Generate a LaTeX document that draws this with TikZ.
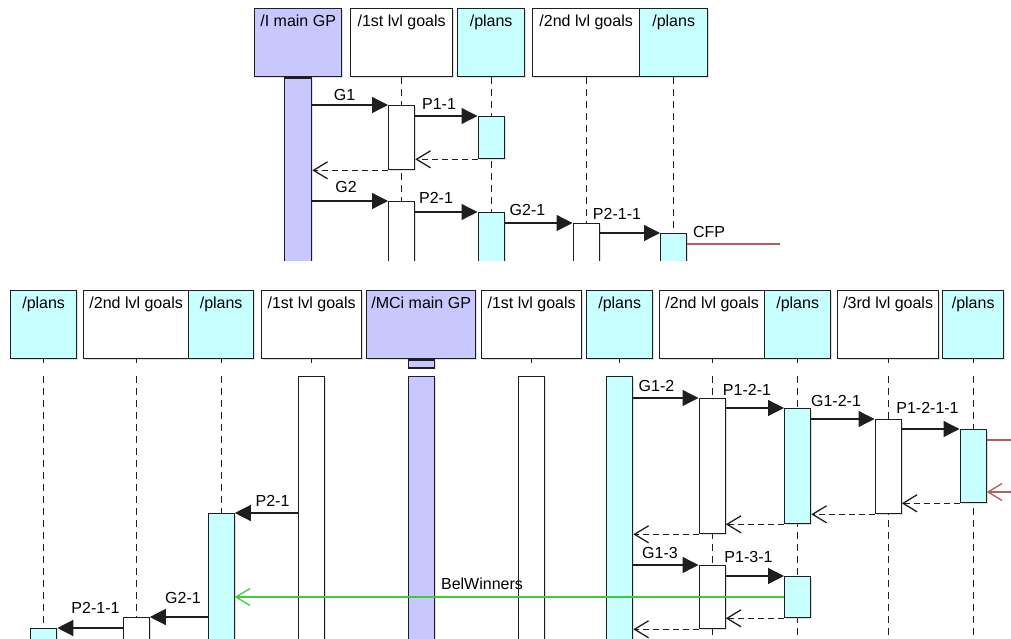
\documentclass[tikz,border=0pt]{standalone}
\usepackage{fontspec}
\setmainfont{Liberation Sans}
\usetikzlibrary{arrows.meta,positioning,shadows}
\definecolor{gpviolet}{RGB}{200,200,255}
\definecolor{plancyan}{RGB}{200,255,255}
\definecolor{edgegray}{RGB}{30,30,30}
\definecolor{cfpred}{RGB}{176,96,96}
\definecolor{belgreen}{RGB}{60,205,60}

\begin{document}
\begin{tikzpicture}[x=1pt,y=-1pt,line width=1.3pt,
    font=\fontsize{16}{19}\selectfont,
    lane/.style={draw=edgegray,fill=white,anchor=north west,minimum height=68pt,
        inner xsep=0pt,inner ysep=4pt,text height=14pt,text depth=46pt,
        drop shadow={shadow xshift=1.5pt,shadow yshift=-1.5pt,opacity=0.25}},
    bar/.style={draw=edgegray,fill=white,anchor=north,minimum width=26pt,inner sep=0pt,
        drop shadow={shadow xshift=1.5pt,shadow yshift=-1.5pt,opacity=0.25}},
    life/.style={edgegray,dash pattern=on 7pt off 5pt},
    msg/.style={edgegray,-{Triangle[length=16pt,width=16pt]}},
    back/.style={edgegray,dash pattern=on 6pt off 4pt,-{Straight Barb[length=14pt,width=17pt]}},
    lbl/.style={inner sep=0pt}]
    \useasboundingbox (0,0) rectangle (1011,639);

    % upper view: I agent
    \node[lane,fill=gpviolet,minimum width=87pt] (h1) at (254,8) {/I main GP};
    \node[lane,minimum width=102pt] (h2) at (350,8) {/1st lvl goals};
    \node[lane,fill=plancyan,minimum width=67pt] (h3) at (457,8) {/plans};
    \node[lane,minimum width=107pt] (h4) at (532,8) {/2nd lvl goals};
    \node[lane,fill=plancyan,minimum width=68pt] (h5) at (639,8) {/plans};

    \begin{scope}
        \clip (0,0) rectangle (1011,260);
        \foreach \h in {h2,h3,h4,h5} {
            \draw[life] (\h.south) -- (\h.south |- 0,265);
        }
        \node[bar,fill=gpviolet,minimum width=27pt,minimum height=195pt] (mb1) at (h1.south) {};
        \node[bar,minimum height=64pt] (a1) at (h2.south |- 0,105) {};
        \node[bar,fill=plancyan,minimum height=42pt] (p1) at (h3.south |- 0,116) {};
        \node[bar,minimum height=70pt] (a2) at (h2.south |- 0,201) {};
        \node[bar,fill=plancyan,minimum height=70pt] (p2) at (h3.south |- 0,212) {};
        \node[bar,minimum height=70pt] (b1) at (h4.south |- 0,223) {};
        \node[bar,fill=plancyan,minimum height=70pt] (q1) at (h5.south |- 0,233) {};
    \end{scope}

    \draw[msg] (mb1.east |- a1.north) -- (a1.north west);
    \draw[msg] (a1.east |- p1.north) -- (p1.north west);
    \draw[back] (p1.south west) -- (a1.east |- p1.south west);
    \draw[back] (a1.south west) -- (mb1.east |- a1.south west);
    \draw[msg] (mb1.east |- a2.north) -- (a2.north west);
    \draw[msg] (a2.east |- p2.north) -- (p2.north west);
    \draw[msg] (p2.east |- b1.north) -- (b1.north west);
    \draw[msg] (b1.east |- q1.north) -- (q1.north west);
    \coordinate (cfpend) at (780,244);
    \draw[cfpred] (q1.east |- cfpend) -- (cfpend);

    \node[lbl] (lg1) at (344.5,95) {G1};
    \node[lbl] (lp11) at (439,104) {P1-1};
    \node[lbl] (lg2) at (346,186.5) {G2};
    \node[lbl] (lp21) at (436,198) {P2-1};
    \node[lbl] (lg21) at (527.5,210) {G2-1};
    \node[lbl] (lp211) at (617,213.5) {P2-1-1};
    \node[lbl] (lcfp) at (709,231.5) {CFP};

    % lower view: MCi agent
    \node[lane,fill=plancyan,minimum width=66pt] (k1) at (10,290) {/plans};
    \node[lane,minimum width=105pt] (k2) at (83,290) {/2nd lvl goals};
    \node[lane,fill=plancyan,minimum width=65pt] (k3) at (188,290) {/plans};
    \node[lane,minimum width=100pt] (k4) at (261,290) {/1st lvl goals};
    \node[lane,fill=gpviolet,minimum width=109pt] (k5) at (366,290) {/MCi main GP};
    \node[lane,minimum width=100pt] (k6) at (481,290) {/1st lvl goals};
    \node[lane,fill=plancyan,minimum width=66pt] (k7) at (586,290) {/plans};
    \node[lane,minimum width=105pt] (k8) at (659,290) {/2nd lvl goals};
    \node[lane,fill=plancyan,minimum width=66pt] (k9) at (764,290) {/plans};
    \node[lane,minimum width=101pt] (k10) at (837,290) {/3rd lvl goals};
    \node[lane,fill=plancyan,minimum width=61pt] (k11) at (942,290) {/plans};

    \foreach \k in {k1,k2,k3,k4,k6,k7,k8,k9,k10,k11} {
        \draw[edgegray] (\k.south) -- (\k.south |- 0,363);
    }
    \node[bar,fill=gpviolet,minimum height=8pt] (ms) at (k5.south) {};

    \begin{scope}
        \clip (0,370) rectangle (1011,639);
        \foreach \k in {k1,k2,k3,k4,k6,k7,k8,k9,k10,k11} {
            \draw[life] (\k.south |- 0,376) -- (\k.south |- 0,645);
        }
        \node[bar,minimum height=280pt] (c1) at (k4.south |- 0,376) {};
        \node[bar,fill=gpviolet,minimum height=280pt] (mb2) at (k5.south |- 0,376) {};
        \node[bar,minimum height=280pt] (c2) at (k6.south |- 0,376) {};
        \node[bar,fill=plancyan,minimum height=280pt] (pb) at (k7.south |- 0,376) {};
        \node[bar,minimum height=135pt] (d1) at (k8.south |- 0,398) {};
        \node[bar,fill=plancyan,minimum height=115pt] (e1) at (k9.south |- 0,408) {};
        \node[bar,minimum height=94pt] (f1) at (k10.south |- 0,419) {};
        \node[bar,fill=plancyan,minimum height=73pt] (g1) at (k11.south |- 0,429) {};
        \node[bar,minimum height=63pt] (d2) at (k8.south |- 0,565) {};
        \node[bar,fill=plancyan,minimum height=41pt] (e2) at (k9.south |- 0,576) {};
        \node[bar,fill=plancyan,minimum height=140pt] (r1) at (k3.south |- 0,513) {};
        \node[bar,minimum height=40pt] (s1) at (k2.south |- 0,617) {};
        \node[bar,fill=plancyan,minimum height=40pt] (t1) at (k1.south |- 0,628) {};
    \end{scope}

    \draw[msg] (pb.east |- d1.north) -- (d1.north west);
    \draw[msg] (d1.east |- e1.north) -- (e1.north west);
    \draw[msg] (e1.east |- f1.north) -- (f1.north west);
    \draw[msg] (f1.east |- g1.north) -- (g1.north west);
    \coordinate (cfpout) at (1011,440);
    \coordinate (cfpin) at (1011,492);
    \draw[cfpred] (g1.east |- cfpout) -- (cfpout);
    \draw[cfpred,-{Straight Barb[length=14pt,width=17pt]}] (cfpin) -- (g1.east |- cfpin);
    \draw[back] (g1.south west) -- (f1.east |- g1.south west);
    \draw[back] (f1.south west) -- (e1.east |- f1.south west);
    \draw[back] (e1.south west) -- (d1.east |- e1.south west);
    \draw[back] (d1.south west) -- (pb.east |- d1.south west);
    \draw[msg] (pb.east |- d2.north) -- (d2.north west);
    \draw[msg] (d2.east |- e2.north) -- (e2.north west);
    \draw[back] (e2.south west) -- (d2.east |- e2.south west);
    \draw[back] (d2.south west) -- (pb.east |- d2.south west);
    \draw[msg] (c1.west |- r1.north) -- (r1.north east);
    \draw[msg] (r1.west |- s1.north) -- (s1.north east);
    \draw[msg] (s1.west |- t1.north) -- (t1.north east);
    \draw[belgreen,-{Straight Barb[length=14pt,width=17pt]}] (e2.west |- 0,597) -- (r1.east |- 0,597);

    \node[lbl] (lg12) at (656.5,385.5) {G1-2};
    \node[lbl] (lp121) at (747,390) {P1-2-1};
    \node[lbl] (lg121) at (836,400.5) {G1-2-1};
    \node[lbl] (lp1211) at (927.5,408) {P1-2-1-1};
    \node[lbl] (lg13) at (660,553) {G1-3};
    \node[lbl] (lp131) at (748.5,557) {P1-3-1};
    \node[lbl] (lbel) at (482,583.5) {BelWinners};
    \node[lbl] (lp21b) at (272.5,500.5) {P2-1};
    \node[lbl] (lg21b) at (183,597.5) {G2-1};
    \node[lbl] (lp211b) at (95.5,607.5) {P2-1-1};
\end{tikzpicture}
\end{document}
